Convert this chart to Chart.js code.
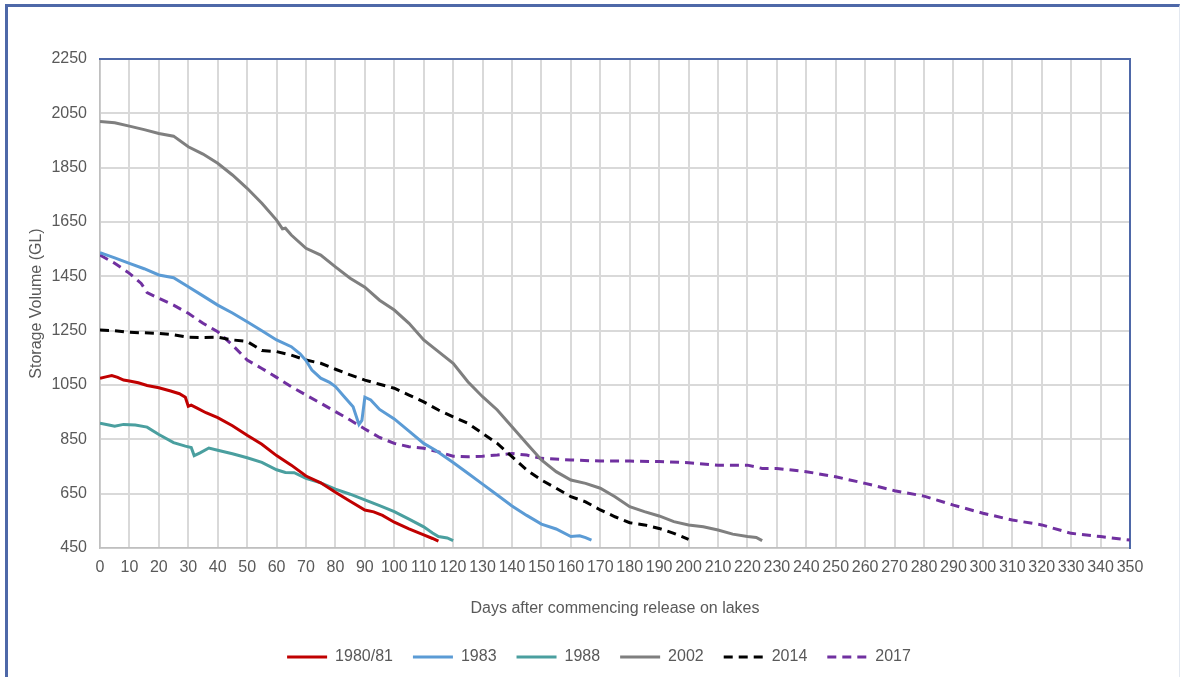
<!DOCTYPE html>
<html>
<head>
<meta charset="utf-8">
<script src="https://cdn.jsdelivr.net/npm/chart.js@4.4.1/dist/chart.umd.min.js"></script>
<style>
  body { margin: 0; background: #fff; }
  #wrap { position: relative; width: 1188px; height: 677px; overflow: hidden; }
  #frame {
    position: absolute; left: 5px; top: 4px; width: 1171px; height: 670px;
    border-top: 3px solid #4e68a8; border-left: 3px solid #4e68a8;
    border-right: 1px solid #e3e8f0; border-bottom: 1px solid #e3e8f0;
  }
  #storageChart { position: absolute; left: 0; top: 0; }
</style>
</head>
<body>
<div id="wrap">
  <div id="frame"></div>
  <canvas id="storageChart" width="1188" height="677"></canvas>
</div>
<script>
// values
const days8081 = [0, 2, 4, 6, 8, 10, 13, 16, 20, 24, 27, 29, 30, 31, 33, 36, 40, 45, 50, 55, 60, 65, 70, 75, 80, 85, 90, 93, 96, 100, 105, 110, 113, 115];
const vol8081 = [1075, 1080, 1085, 1078, 1068, 1065, 1058, 1048, 1040, 1028, 1018, 1005, 972, 976, 965, 948, 930, 900, 865, 832, 790, 755, 715, 690, 655, 622, 590, 583, 570, 545, 520, 498, 485, 475];

const days1983 = [0, 5, 10, 15, 20, 25, 30, 35, 40, 45, 50, 55, 60, 65, 68, 70, 72, 75, 78, 80, 83, 86, 88, 89, 90, 92, 95, 100, 105, 110, 114, 120, 125, 130, 135, 140, 145, 150, 155, 160, 163, 165, 167];
const vol1983 = [1537, 1518, 1498, 1478, 1455, 1445, 1412, 1378, 1344, 1315, 1283, 1250, 1216, 1191, 1165, 1140, 1105, 1075, 1060, 1044, 1007, 970, 905, 920, 1005, 995, 960, 925, 880, 835, 810, 765, 725, 685, 645, 605, 570, 538, 520, 492, 495, 488, 479];

const days1988 = [0, 3, 5, 8, 12, 16, 20, 25, 29, 31, 32, 34, 37, 40, 45, 50, 55, 60, 63, 66, 70, 75, 80, 85, 90, 95, 100, 105, 110, 113, 115, 118, 120];
const vol1988 = [909, 903, 898, 905, 903, 895, 868, 838, 825, 820, 790, 800, 818, 810, 797, 782, 765, 738, 728, 727, 706, 690, 667, 648, 627, 606, 584, 556, 528, 505, 492, 487, 477];

const days2002 = [0, 5, 10, 15, 20, 25, 30, 35, 40, 45, 50, 55, 60, 62, 63, 65, 70, 75, 80, 85, 90, 95, 100, 105, 110, 115, 120, 125, 130, 135, 140, 145, 150, 155, 160, 165, 170, 175, 180, 185, 190, 195, 200, 205, 210, 215, 220, 223, 225];
const vol2002 = [2020, 2015, 2003, 1990, 1976, 1966, 1927, 1900, 1866, 1823, 1774, 1719, 1657, 1625, 1627, 1602, 1553, 1528, 1485, 1443, 1410, 1362, 1326, 1277, 1216, 1173, 1130, 1062, 1007, 958, 896, 835, 774, 731, 700, 688, 670, 639, 602, 584, 568, 547, 535, 528, 516, 501, 492, 489, 477];

const days2014 = [0, 5, 10, 15, 20, 25, 30, 35, 40, 45, 50, 55, 60, 65, 70, 75, 80, 85, 90, 95, 100, 105, 110, 115, 120, 125, 130, 135, 140, 145, 150, 155, 160, 165, 170, 175, 180, 185, 190, 195, 200];
const vol2014 = [1252, 1250, 1244, 1242, 1240, 1235, 1226, 1225, 1226, 1216, 1210, 1177, 1173, 1160, 1142, 1130, 1108, 1087, 1068, 1053, 1038, 1013, 988, 958, 933, 909, 872, 835, 786, 737, 700, 670, 639, 620, 590, 565, 543, 535, 522, 504, 482];

const days2017 = [0, 5, 10, 14, 16, 20, 25, 30, 35, 40, 45, 50, 55, 60, 65, 70, 75, 80, 85, 90, 95, 100, 105, 110, 115, 120, 125, 130, 135, 140, 145, 150, 160, 170, 180, 190, 200, 210, 220, 225, 230, 240, 250, 260, 270, 280, 290, 300, 310, 320, 330, 340, 350];
const vol2017 = [1528, 1498, 1461, 1424, 1390, 1369, 1344, 1314, 1277, 1246, 1197, 1142, 1111, 1078, 1044, 1013, 983, 952, 921, 888, 857, 835, 823, 817, 804, 788, 786, 788, 792, 798, 792, 780, 774, 770, 770, 768, 764, 755, 755, 743, 743, 731, 712, 688, 661, 641, 608, 578, 553, 535, 504, 492, 479];

const yTicks = [450, 650, 850, 1050, 1250, 1450, 1650, 1850, 2050, 2250];

function pts(xs, ys) {
    return xs.map((d, i) => ({x: d, y: ys[i]}));
}

function series(label, xs, ys, color, dash) {
    return {
        label: label,
        data: pts(xs, ys),
        borderColor: color,
        backgroundColor: color,
        borderWidth: 3,
        borderDash: dash || [],
        pointRadius: 0,
        tension: 0,
        fill: false
    };
}

const textColor = '#595959';
const frameBlue = '#4e68a8';
const font16 = {family: "'Liberation Sans', Arial, sans-serif", size: 16};

let ctx = document.getElementById('storageChart');
const storageChart = new Chart(ctx, {
    type: 'line',
    data: {
        datasets: [
            series('1980/81', days8081, vol8081, '#c00000'),
            series('1983', days1983, vol1983, '#5b9bd5'),
            series('1988', days1988, vol1988, '#4a9f9f'),
            series('2002', days2002, vol2002, '#7f7f7f'),
            series('2014', days2014, vol2014, '#000000', [9, 6]),
            series('2017', days2017, vol2017, '#7030a0', [9, 6])
        ]
    },
    options: {
        responsive: false,
        animation: false,
        devicePixelRatio: 1,
        layout: {padding: {left: 25, right: 15, top: 0, bottom: 2}},
        plugins: {
            tooltip: {enabled: false},
            legend: {
                position: 'bottom',
                labels: {
                    usePointStyle: true,
                    pointStyle: 'line',
                    pointStyleWidth: 40,
                    padding: 20,
                    color: textColor,
                    font: font16,
                    generateLabels: function(chart) {
                        const items = Chart.defaults.plugins.legend.labels.generateLabels(chart);
                        items.forEach(function(it) {
                            const ds = chart.data.datasets[it.datasetIndex];
                            it.lineDash = ds.borderDash;
                            it.lineWidth = ds.borderWidth;
                            it.strokeStyle = ds.borderColor;
                            it.pointStyle = 'line';
                        });
                        return items;
                    }
                }
            }
        },
        scales: {
            x: {
                type: 'linear',
                min: 0,
                max: 350,
                ticks: {stepSize: 10, autoSkip: false, maxRotation: 0, minRotation: 0, padding: 10, color: textColor, font: font16,
                        callback: v => String(v)},
                grid: {color: '#d9d9d9', lineWidth: 2, drawTicks: false},
                border: {color: '#bfbfbf', width: 1.5},
                title: {display: true, text: 'Days after commencing release on lakes', color: textColor, font: font16, padding: {top: 0, bottom: 11}},
                afterFit: function(s) { s.height = 81; }
            },
            y: {
                min: 450,
                max: 2250,
                afterBuildTicks: function(s) { s.ticks = yTicks.map(v => ({value: v})); },
                ticks: {padding: 13, color: textColor, font: font16, callback: v => String(v)},
                grid: {color: '#d9d9d9', lineWidth: 2, drawTicks: false},
                border: {color: '#bfbfbf', width: 1.5},
                title: {display: true, text: 'Storage Volume (GL)', color: textColor, font: font16, padding: {top: 2, bottom: 0}},
                afterFit: function(s) { s.width = 75; }
            },
            xTop: {
                type: 'linear',
                position: 'top',
                display: true,
                min: 0,
                max: 350,
                z: 1,
                ticks: {display: false},
                grid: {display: false, drawTicks: false},
                border: {color: frameBlue, width: 2},
                afterFit: function(s) { s.height = 59; }
            },
            yRight: {
                type: 'linear',
                position: 'right',
                display: true,
                min: 450,
                max: 2250,
                z: 1,
                ticks: {display: false},
                grid: {display: false, drawTicks: false},
                border: {color: frameBlue, width: 2},
                afterFit: function(s) { s.width = 43; }
            }
        }
    }
});
</script>
</body>
</html>
